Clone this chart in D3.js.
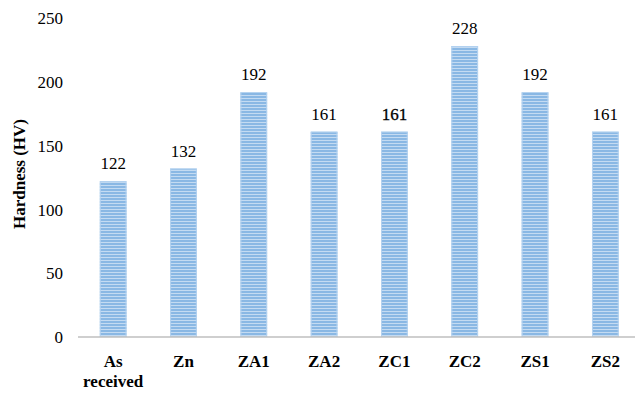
<!DOCTYPE html>
<html><head><meta charset="utf-8">
<script src="https://cdn.jsdelivr.net/npm/d3@7"></script>
</head><body style="margin:0">
<svg id="c" width="635" height="394"></svg>
<script>
const categories = ["As received","Zn","ZA1","ZA2","ZC1","ZC2","ZS1","ZS2"];
const hardness = [122,132,192,161,161,228,192,161];
const yTicks = [0,50,100,150,200,250];

const svg = d3.select("#c");
const x = d3.scaleBand().domain(categories).range([78, 640.5]).paddingInner(0.62).paddingOuter(0.31);
const y = d3.scaleLinear().domain([0,250]).range([337,18]);

function serif(sel){ return sel.style("font-family", d => '"Liberation Serif"'); }

const defs = svg.append("defs");
const pat = defs.append("pattern").attr("id","stripes").attr("patternUnits","userSpaceOnUse")
  .attr("width",4).attr("height",3);
pat.append("rect").attr("width",4).attr("height",3).attr("fill","#8ab8e4");
pat.append("rect").attr("y",2).attr("width",4).attr("height",1).attr("fill","#c4dbf2");

// bars
const bars = svg.append("g").selectAll("g").data(categories).join("g");
bars.append("rect")
  .attr("x",d=>x(d)).attr("width",x.bandwidth())
  .attr("y",(d,i)=>y(hardness[i])).attr("height",(d,i)=>y(0)-y(hardness[i]))
  .attr("fill","url(#stripes)");
bars.append("rect")
  .attr("x",d=>x(d)+0.5).attr("width",x.bandwidth()-1)
  .attr("y",(d,i)=>y(hardness[i])+0.5).attr("height",(d,i)=>y(0)-y(hardness[i])-1)
  .attr("fill","none").attr("stroke","#b5d3f0").attr("stroke-width",1);

// value labels
const vl = svg.append("g").selectAll("text").data(categories).join("text")
  .attr("x",d=>x(d)+x.bandwidth()/2)
  .attr("y",(d,i)=>y(hardness[i])-12)
  .attr("text-anchor","middle")
  .attr("font-size",17).attr("fill","#000")
  .attr("stroke",d=>d==="ZC1"?"#000":"none").attr("stroke-width",0.3)
  .text((d,i)=>hardness[i]);
serif(vl);

// y axis
const ya = svg.append("g").attr("transform","translate(63,0)")
  .call(d3.axisLeft(y).tickValues(yTicks).tickSize(0).tickPadding(0));
ya.attr("font-family",null).attr("font-size",null);
ya.select(".domain").remove();
serif(ya.selectAll("text").attr("font-size",17).attr("fill","#000").attr("dy","0.33em"));

// x axis line
svg.append("line").attr("x1",78).attr("x2",635).attr("y1",y(0)).attr("y2",y(0))
  .attr("stroke","#bfbfbf").attr("stroke-width",1.5);

// x labels (two lines for "As received")
const xlines = [];
categories.forEach(c => c.split(" ").forEach((p,k) => xlines.push({c, p, k})));
serif(svg.append("g").selectAll("text").data(xlines).join("text")
  .attr("x",d=>x(d.c)+x.bandwidth()/2).attr("y",d=>367+d.k*20)
  .attr("text-anchor","middle").attr("font-size",17)
  .attr("font-weight","bold").attr("fill","#000").text(d=>d.p));

// y title
serif(svg.append("text").attr("transform","translate(25,174) rotate(-90)")
  .attr("text-anchor","middle").attr("font-size",17)
  .attr("font-weight","bold").attr("fill","#000").text("Hardness (HV)"));
</script>
</body></html>
